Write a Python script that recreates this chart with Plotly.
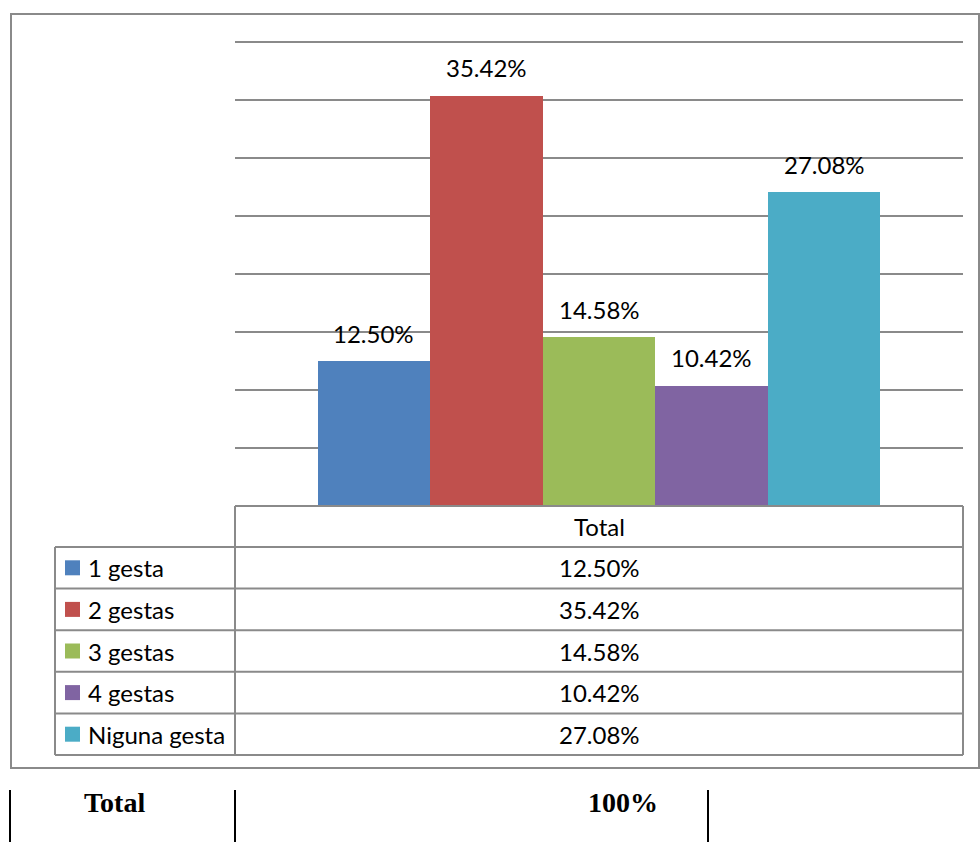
import plotly.graph_objects as go

categories = ["1 gesta", "2 gestas", "3 gestas", "4 gestas", "Niguna gesta"]
values = [0.1250, 0.3542, 0.1458, 0.1042, 0.2708]
colors = ["#4F81BD", "#C0504D", "#9BBB59", "#8064A2", "#4BACC6"]
table_header = "Total"
footer_label = "Total"
footer_value = "100%"

W, H = 980, 842


def px(x):
    return x / W


def py(y):
    return 1 - y / H


FONT = "Lato, 'Open Sans', sans-serif"
GRID = "#8a8a8a"
FS = 24

fig = go.Figure()
fig.add_trace(go.Bar(
    x=categories, y=values, marker=dict(color=colors, line=dict(width=0)),
    showlegend=False, hoverinfo="skip",
))

n = len(categories)
pad = 0.735
y_max_grid = 0.40
y_top = 0.403
base_px, top_px = 506, 42
dom_top_px = base_px - (base_px - top_px) * y_top / y_max_grid
fig.update_layout(
    width=W, height=H,
    margin=dict(l=0, r=0, t=0, b=0),
    paper_bgcolor="white", plot_bgcolor="white",
    bargap=0,
    xaxis=dict(domain=[px(235), px(963)], range=[-0.5 - pad, n - 0.5 + pad],
               showticklabels=False, showgrid=False, zeroline=False, showline=False,
               ticks=""),
    yaxis=dict(domain=[py(base_px), py(dom_top_px)], range=[0, y_top], dtick=0.05,
               showticklabels=False, showgrid=True, gridcolor=GRID, gridwidth=2,
               zeroline=False, showline=False, ticks=""),
    font=dict(family=FONT, color="#000000"),
)

annotations = []
shapes = []

# data labels above bars
for c, v in zip(categories, values):
    annotations.append(dict(x=c, y=v, xref="x", yref="y", text=f"{v*100:.2f}%",
                            showarrow=False, xanchor="center", yanchor="bottom", yshift=11,
                            font=dict(family=FONT, size=FS, color="#000000")))

# outer chart border
shapes.append(dict(type="rect", xref="paper", yref="paper",
                   x0=px(11), x1=px(979), y0=py(768), y1=py(14),
                   line=dict(color="#8a8a8a", width=2)))

# data table
tbl_left, tbl_mid, tbl_right = 55, 235, 963
head_top, head_bot = 506, 547
row_h = (755 - 547) / n
line_style = dict(color="#8a8a8a", width=2)

shapes.append(dict(type="line", xref="paper", yref="paper",
                   x0=px(tbl_mid), x1=px(tbl_right), y0=py(head_top), y1=py(head_top), line=line_style))
for i in range(n + 1):
    yy = head_bot + i * row_h
    shapes.append(dict(type="line", xref="paper", yref="paper",
                       x0=px(tbl_left), x1=px(tbl_right), y0=py(yy), y1=py(yy), line=line_style))
shapes.append(dict(type="line", xref="paper", yref="paper",
                   x0=px(tbl_left), x1=px(tbl_left), y0=py(head_bot), y1=py(755), line=line_style))
shapes.append(dict(type="line", xref="paper", yref="paper",
                   x0=px(tbl_mid), x1=px(tbl_mid), y0=py(head_top), y1=py(755), line=line_style))
shapes.append(dict(type="line", xref="paper", yref="paper",
                   x0=px(tbl_right), x1=px(tbl_right), y0=py(head_top), y1=py(755), line=line_style))

annotations.append(dict(x=px((tbl_mid + tbl_right) / 2), y=py((head_top + head_bot) / 2),
                        xref="paper", yref="paper", text=table_header, showarrow=False,
                        xanchor="center", yanchor="middle",
                        font=dict(family=FONT, size=FS, color="#000000")))

for i, (c, v, col) in enumerate(zip(categories, values, colors)):
    yc = head_bot + (i + 0.5) * row_h
    shapes.append(dict(type="rect", xref="paper", yref="paper",
                       x0=px(65), x1=px(80), y0=py(yc + 7.5), y1=py(yc - 7.5),
                       fillcolor=col, line=dict(width=0)))
    annotations.append(dict(x=px(86), y=py(yc), xref="paper", yref="paper", text=c,
                            showarrow=False, xanchor="left", yanchor="middle",
                            font=dict(family=FONT, size=FS, color="#000000")))
    annotations.append(dict(x=px((tbl_mid + tbl_right) / 2), y=py(yc), xref="paper", yref="paper",
                            text=f"{v*100:.2f}%", showarrow=False,
                            xanchor="center", yanchor="middle",
                            font=dict(family=FONT, size=FS, color="#000000")))

# footer row below chart
for xx in [10, 235, 708]:
    shapes.append(dict(type="line", xref="paper", yref="paper",
                       x0=px(xx), x1=px(xx), y0=py(790), y1=py(842),
                       line=dict(color="#000000", width=2)))
SERIF = "'Liberation Serif', 'DejaVu Serif', serif"
annotations.append(dict(x=px(114), y=py(802), xref="paper", yref="paper",
                        text=f"<b>{footer_label}</b>", showarrow=False,
                        xanchor="center", yanchor="middle",
                        font=dict(family=SERIF, size=28, color="#000000")))
annotations.append(dict(x=px(623), y=py(802), xref="paper", yref="paper",
                        text=f"<b>{footer_value}</b>", showarrow=False,
                        xanchor="center", yanchor="middle",
                        font=dict(family=SERIF, size=28, color="#000000")))

fig.update_layout(annotations=annotations, shapes=shapes)
fig.write_html("out.html", config={"displayModeBar": False},
               post_script="document.body.style.margin='0';document.body.style.overflow='hidden';")
